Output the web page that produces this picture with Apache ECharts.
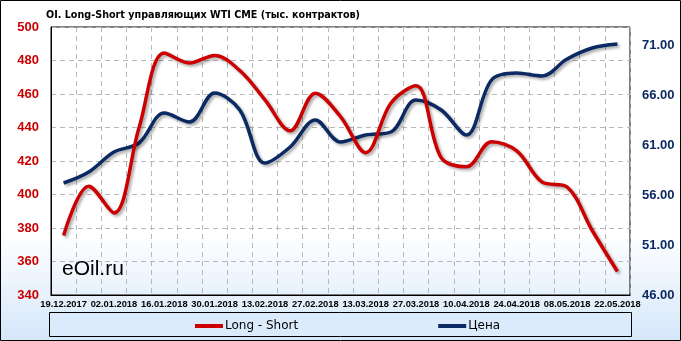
<!DOCTYPE html>
<html><head><meta charset="utf-8">
<script src="https://cdn.jsdelivr.net/npm/echarts@6/dist/echarts.min.js"></script>
<style>html,body{margin:0;padding:0;background:#fff}#c{width:681px;height:341px}</style>
</head><body><div id="c"></div>
<script>
var categories = ['19.12.2017','26.12.2017','02.01.2018','09.01.2018','16.01.2018','23.01.2018','30.01.2018','06.02.2018','13.02.2018','20.02.2018','27.02.2018','06.03.2018','13.03.2018','20.03.2018','27.03.2018','03.04.2018','10.04.2018','17.04.2018','24.04.2018','01.05.2018','08.05.2018','15.05.2018','22.05.2018'];
var longShort = [375.5, 405, 389, 440, 484.5, 478.5, 483, 474, 456.5, 438, 460.5, 446.5, 425, 454.5, 465, 422, 416.5, 431.5, 426, 407.5, 404.5, 378.5, 354];
var price = [57.2, 58.3, 60.3, 61.2, 64.2, 63.3, 66.2, 64.5, 59.2, 60.8, 63.5, 61.3, 62.0, 62.3, 65.5, 64.5, 62.0, 67.5, 68.2, 67.9, 69.6, 70.7, 71.1];
var leftTicks = {min: 340, max: 500, step: 20};
var rightTicks = {min: 46, max: 72.8, step: 5};

var chart = echarts.init(document.getElementById('c'), null, {renderer: 'canvas'});
var shadow = {shadowColor: 'rgba(0,0,0,0.35)', shadowBlur: 3, shadowOffsetX: 2, shadowOffsetY: 2};
chart.setOption({
  animation: false,
  backgroundColor: 'transparent',
  graphic: [
    {type: 'rect', z: -10, silent: true, shape: {x: 0.5, y: 0.5, width: 680, height: 340},
     style: {fill: new echarts.graphic.LinearGradient(0, 0, 0, 1, [
       {offset: 0, color: '#ffffff'}, {offset: 0.68, color: '#ffffff'}, {offset: 1, color: '#d5e7fa'}]),
       stroke: '#000', lineWidth: 1}},
    {type: 'rect', z: -5, silent: true, shape: {x: 49.5, y: 312.5, width: 582, height: 24},
     style: {fill: '#dcebfb', stroke: '#000', lineWidth: 1}},
    {type: 'text', left: 62, top: 259, z: 5, silent: true,
     style: {text: 'eOil.ru', fill: '#000', font: '21px "Liberation Sans", Arial, sans-serif'}}
  ],
  title: {
    text: 'OI. Long-Short управляющих WTI CME (тыс. контрактов)',
    left: 41, top: 5,
    textStyle: {fontFamily: '"DejaVu Sans Condensed", "DejaVu Sans", sans-serif', fontWeight: 'bold', fontSize: 10.7, color: '#000'}
  },
  legend: {
    top: 315, left: 190, itemGap: 140, itemWidth: 28, itemHeight: 4, icon: 'rect',
    textStyle: {fontFamily: '"DejaVu Sans", Verdana, sans-serif', fontSize: 12, color: '#000', padding: [0,0,0,-3]},
    data: ['Long - Short', 'Цена']
  },
  grid: {left: 51, right: 51, top: 27, bottom: 46, show: true, borderColor: '#000', borderWidth: 1, backgroundColor: 'transparent'},
  xAxis: {
    type: 'category', data: categories, boundaryGap: true,
    axisLine: {show: true, lineStyle: {color: '#000'}},
    axisTick: {show: false},
    axisLabel: {interval: 1, margin: 5, color: '#000', fontFamily: '"Liberation Sans", Arial, sans-serif', fontWeight: 'bold', fontSize: 9.3},
    splitLine: {show: true, interval: 0, lineStyle: {color: '#b8b8b8', type: [5, 4], width: 1}}
  },
  yAxis: [
    {type: 'value', min: leftTicks.min, max: leftTicks.max, interval: leftTicks.step, position: 'left',
     axisLine: {show: true, lineStyle: {color: '#000'}}, axisTick: {show: false},
     axisLabel: {margin: 12, color: '#cc0000', fontFamily: '"Liberation Sans", Arial, sans-serif', fontWeight: 'bold', fontSize: 13},
     splitLine: {show: true, lineStyle: {color: '#b8b8b8', type: [5, 4], width: 1}}},
    {type: 'value', min: rightTicks.min, max: rightTicks.max, interval: rightTicks.step, position: 'right',
     axisLine: {show: false}, axisTick: {show: false}, splitLine: {show: false},
     axisLabel: {margin: 12, showMaxLabel: false, color: '#0b2a63', fontFamily: '"Liberation Sans", Arial, sans-serif', fontWeight: 'bold', fontSize: 13,
       formatter: function (v) { var r = (v - rightTicks.min) / rightTicks.step; return Math.abs(r - Math.round(r)) < 1e-6 ? v.toFixed(2) : ''; }}}
  ],
  series: [
    {name: 'Long - Short', type: 'line', yAxisIndex: 0, data: longShort, smooth: 0.35, symbol: 'none',
     itemStyle: {color: '#cc0000'}, lineStyle: Object.assign({color: '#cc0000', width: 3.5}, shadow), z: 3},
    {name: 'Цена', type: 'line', yAxisIndex: 1, data: price, smooth: 0.35, symbol: 'none',
     itemStyle: {color: '#0b2a63'}, lineStyle: Object.assign({color: '#0b2a63', width: 3.5}, shadow), z: 2}
  ]
});
</script></body></html>
